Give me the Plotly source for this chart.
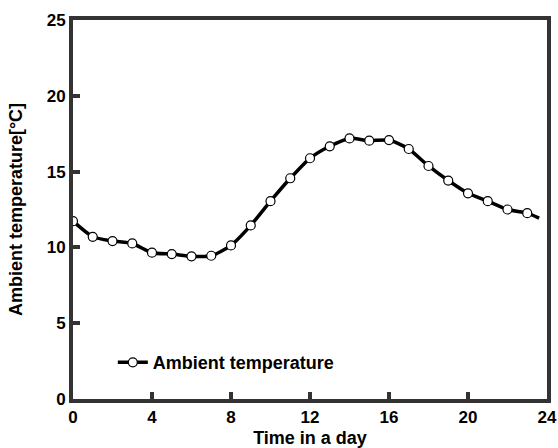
import plotly.graph_objects as go

hours = list(range(24))
temps = [11.73, 10.70, 10.42, 10.26, 9.65, 9.56, 9.41, 9.45, 10.13, 11.45,
         13.05, 14.56, 15.88, 16.67, 17.19, 17.04, 17.08, 16.49, 15.37, 14.41,
         13.57, 13.05, 12.50, 12.26]
line_end_x = [23.6]
line_end_y = [11.93]

x_ticks = [0, 4, 8, 12, 16, 20, 24]
y_ticks = [0, 5, 10, 15, 20, 25]

FONT = "Liberation Sans, Arial, sans-serif"
INK = "#000000"
FRAME = "#333333"

fig = go.Figure()
fig.add_trace(go.Scatter(
    x=hours + line_end_x, y=temps + line_end_y,
    mode="lines", line=dict(color=INK, width=3.5, shape="spline", smoothing=0.6),
    showlegend=False, hoverinfo="skip"))
fig.add_trace(go.Scatter(
    x=hours, y=temps, mode="markers", name="Ambient temperature",
    marker=dict(symbol="circle", size=9, color="white",
                line=dict(color=INK, width=1.2)),
    showlegend=False))
fig.add_trace(go.Scatter(
    x=[None], y=[None], mode="lines+markers", name="<b>Ambient temperature</b>",
    line=dict(color=INK, width=3.5),
    marker=dict(symbol="circle", size=9, color="white",
                line=dict(color=INK, width=1.2))))

common = dict(showline=True, linecolor=FRAME, linewidth=4, mirror=True,
              ticks="inside", ticklen=7, tickwidth=4, tickcolor=FRAME,
              showgrid=False, zeroline=False, automargin=False)
fig.update_xaxes(**common)
fig.update_yaxes(**common)

fig.update_layout(
    width=558, height=448,
    margin=dict(l=73, r=11, t=20, b=49),
    paper_bgcolor="white", plot_bgcolor="white",
    font=dict(family=FONT, size=17, color="black"),
    xaxis=dict(range=[0, 24], tickvals=x_ticks,
               ticktext=[f"<b>{v}</b>" for v in x_ticks],
               title=dict(text="<b>Time in a day</b>", standoff=6, font=dict(size=18))),
    yaxis=dict(range=[0, 25], tickvals=y_ticks,
               ticktext=[f"<b>{v}</b>" for v in y_ticks],
               title=dict(text="<b>Ambient temperature[°C]</b>", standoff=20, font=dict(size=18))),
    legend=dict(x=0.084, y=0.096, xanchor="left", yanchor="middle",
                bgcolor="rgba(0,0,0,0)", font=dict(size=18)),
)

fig.write_html("out.html")
